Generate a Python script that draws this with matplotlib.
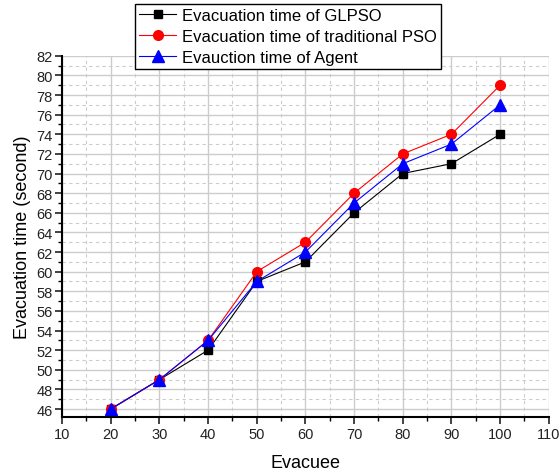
import matplotlib.pyplot as plt
from matplotlib.ticker import MultipleLocator

plt.rcParams["font.family"] = ["Liberation Sans", "DejaVu Sans"]

# evacuee counts and evacuation times (seconds)
evacuee = [20, 30, 40, 50, 60, 70, 80, 90, 100]
glpso = [46, 49, 52, 59, 61, 66, 70, 71, 74]
pso = [46, 49, 53, 60, 63, 68, 72, 74, 79]
agent = [46, 49, 53, 59, 62, 67, 71, 73, 77]

fig = plt.figure(figsize=(5.6, 4.77), dpi=100)
ax = fig.add_axes([0.111, 0.124, 0.869, 0.757])

ax.plot(evacuee, glpso, color="black", marker="s", markersize=6, lw=0.8,
        label="Evacuation time of GLPSO")
ax.plot(evacuee, pso, color="red", marker="o", markersize=7, lw=0.8,
        label="Evacuation time of traditional PSO")
ax.plot(evacuee, agent, color="blue", marker="^", markersize=8, lw=0.8,
        label="Evauction time of Agent")

ax.set_xlim(10, 110)
ax.set_ylim(45.2, 82)
ax.xaxis.set_major_locator(MultipleLocator(10))
ax.xaxis.set_minor_locator(MultipleLocator(5))
ax.yaxis.set_major_locator(MultipleLocator(2))
ax.yaxis.set_minor_locator(MultipleLocator(1))

ax.grid(which="major", color="#cccccc", lw=1.0, ls="-")
ax.grid(which="minor", color="#cccccc", lw=0.8, ls=(0, (3, 3)))
ax.set_axisbelow(True)

for s in ["top", "right"]:
    ax.spines[s].set_visible(False)
for s in ["left", "bottom"]:
    ax.spines[s].set_linewidth(1.5)

ax.tick_params(which="major", direction="out", length=5, width=1.2, labelsize=10.5,
               colors="#222222", pad=2)
ax.tick_params(which="minor", direction="out", length=3, width=1.0)

ax.set_xlabel("Evacuee", fontsize=13, labelpad=10)
ax.set_ylabel("Evacuation time (second)", fontsize=13, labelpad=4)

leg = ax.legend(loc="upper left", bbox_to_anchor=(135 / 560, 1 - 5 / 477),
                bbox_transform=fig.transFigure, fontsize=12,
                frameon=True, fancybox=False, framealpha=1, edgecolor="black",
                borderpad=0.25, labelspacing=0.35, handlelength=2.2, handletextpad=0.35,
                borderaxespad=0)
leg.get_frame().set_linewidth(1.0)

fig.savefig("out.png", dpi=100)
